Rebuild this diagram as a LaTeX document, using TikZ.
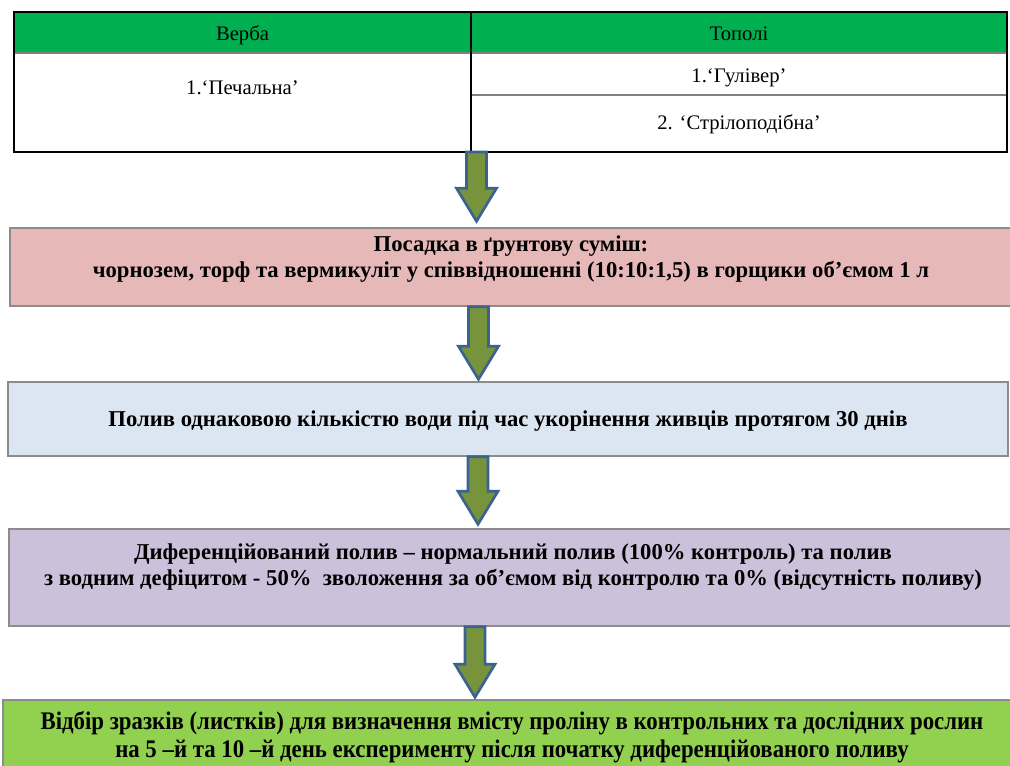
\documentclass[tikz,border=0pt]{standalone}
\usepackage{fontspec}
\setmainfont{Liberation Serif}
\newfontfamily\narrowfont[FakeStretch=0.9]{Liberation Serif}
\usetikzlibrary{calc}

\definecolor{headgreen}{HTML}{00B050}
\definecolor{soilpink}{HTML}{E6B9B8}
\definecolor{waterblue}{HTML}{DCE6F2}
\definecolor{deficitviolet}{HTML}{CCC1DA}
\definecolor{samplegreen}{HTML}{92D050}
\definecolor{arrowolive}{HTML}{77933C}
\definecolor{arrowblue}{HTML}{3A6391}

% block arrow from the lower edge of #1 to just above #2, in column #3
\newcommand{\flowarrow}[4]{%
  \coordinate (col) at (#3,0);
  \coordinate (top) at (#1.south -| col);
  \path (#2.north -| col) ++(0,-#4) coordinate (tip);
  \draw[bigarrow] ($(top)+(-10,0)$) -- ($(tip)+(-10,-33)$) -- ($(tip)+(-20,-33)$)
    -- (tip) -- ($(tip)+(20,-33)$) -- ($(tip)+(10,-33)$) -- ($(top)+(10,0)$) -- cycle;}

\begin{document}
\begin{tikzpicture}[
    x=0.75pt, y=-0.75pt,
    cell/.style={
      anchor=base,
      inner sep=0pt,
      font=\fontsize{15.5}{18}\selectfont
    },
    stagebox/.style={
      rectangle,
      draw=black!45,
      line width=1.1pt,
      inner sep=0pt
    },
    stagetext/.style={
      align=center,
      inner sep=0pt,
      font=\bfseries\fontsize{17}{19.5}\selectfont
    },
    bigarrow/.style={draw=arrowblue, fill=arrowolive, line width=2pt, line join=miter},
    rule/.style={draw=black!50, line width=0.8pt},
    frame/.style={draw=black, line width=1.6pt}
  ]
    \useasboundingbox (0,0) rectangle (1010,766);

    % table of cultivars
    \fill[headgreen] (14,12) rectangle (1007,53);
    \node[cell] (verba) at (242.5,40.5) {Верба};
    \node[cell] (topoli) at (739,41) {Тополі};
    \node[cell] (pechalna) at (242.5,95) {1.‘Печальна’};
    \node[cell] (guliver) at (739,83) {1.‘Гулівер’};
    \node[cell] (strilo) at (739,130) {2. ‘Стрілоподібна’};
    \coordinate (tablebottom) at (739,152);
    \draw[rule] (14,53) -- (1007,53);
    \draw[rule] (471,95) -- (1007,95);
    \draw[frame] (14,12) rectangle (1007,152);
    \draw[frame] (471,12) -- (471,152);

    % stages
    \node[stagebox, fill=soilpink, minimum width=1002*0.75pt, minimum height=78*0.75pt] (soil) at (511,267) {};
    \node[stagetext] (soiltext) at (511,259) {Посадка в ґрунтову суміш:\\чорнозем, торф та вермикуліт у співвідношенні (10:10:1,5) в горщики об’ємом 1 л};

    \node[stagebox, fill=waterblue, minimum width=1000*0.75pt, minimum height=74*0.75pt] (water) at (508,419) {};
    \node[stagetext] (watertext) at (508,421.5) {Полив однаковою кількістю води під час укорінення живців протягом 30 днів};

    \node[stagebox, fill=deficitviolet, minimum width=1003*0.75pt, minimum height=97*0.75pt] (deficit) at (510.5,577.5) {};
    \node[stagetext] (deficittext) at (513,567) {Диференційований полив – нормальний полив (100\% контроль) та полив\\з водним дефіцитом - 50\%\ \ зволоження за об’ємом від контролю та 0\% (відсутність поливу)};

    \node[stagebox, fill=samplegreen, minimum width=1009*0.75pt, minimum height=80*0.75pt] (sample) at (507.5,740) {};
    \node[stagetext, font=\narrowfont\bfseries\fontsize{19}{21}\selectfont] (sampletext) at (512,737) {Відбір зразків (листків) для визначення вмісту проліну в контрольних та дослідних рослин\\на 5 –й та 10 –й день експерименту після початку диференційованого поливу};

    % arrows between stages
    \flowarrow{tablebottom}{soil}{476.5}{6}
    \flowarrow{soil}{water}{478.5}{2}
    \flowarrow{water}{deficit}{478}{4}
    \flowarrow{deficit}{sample}{475}{2}
\end{tikzpicture}
\end{document}
